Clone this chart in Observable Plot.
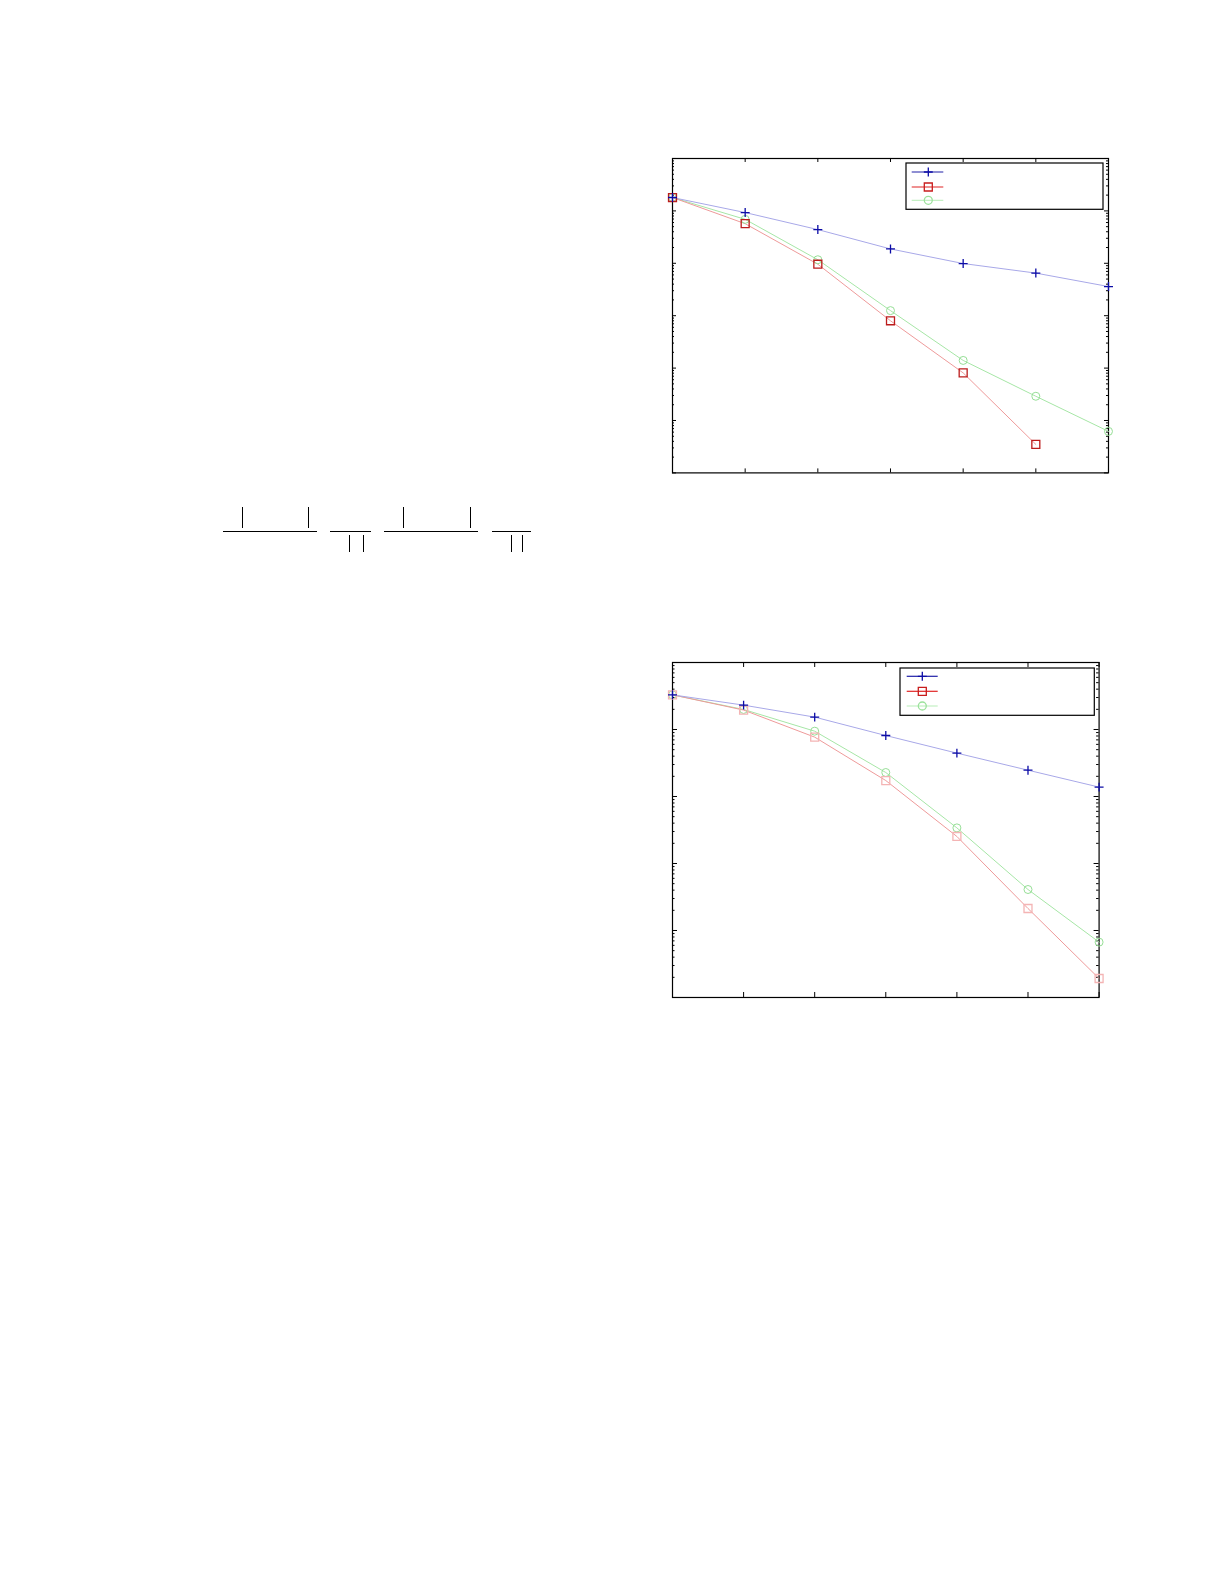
<!DOCTYPE html>
<html><head><meta charset="utf-8">
<script src="https://cdn.jsdelivr.net/npm/d3@7"></script>
<script src="https://cdn.jsdelivr.net/npm/@observablehq/plot@0.6"></script>
<style>
body{margin:0;background:#fff;width:1225px;height:1585px;position:relative;overflow:hidden;font-family:"DejaVu Sans",sans-serif}
.abs{position:absolute}
.hbar{position:absolute;height:1px;background:#000}
.vbar{position:absolute;width:1px;background:#000}
</style></head><body>
<div id="p1" class="abs" style="left:651.7px;top:138.3px"></div>
<div id="p2" class="abs" style="left:651.7px;top:641.7px"></div>
<div id="frac" class="abs" style="left:0;top:0"></div>
<script>
// ---- data ----
const xValues = [0, 1, 2, 3, 4, 5, 6];
const seriesNames = ["A", "B", "C"];

// chart 1 (log y, 1e-6 .. 1)
const top1A = [0.18, 0.093, 0.044, 0.0188, 0.0099, 0.0065, 0.0036];
const top1B = [0.18, 0.057, 0.0096, 0.0008, 0.000081, 0.0000035];
const top1C = [0.18, 0.069, 0.0117, 0.00125, 0.00014, 0.000029, 0.0000062];

// chart 2 (log y, 1e-5 .. 1)
const bot2A = [0.329, 0.231, 0.153, 0.0813, 0.0444, 0.0247, 0.0138];
const bot2B = [0.329, 0.195, 0.0769, 0.0173, 0.00253, 0.000213, 0.0000192];
const bot2C = [0.329, 0.199, 0.0944, 0.0228, 0.0034, 0.000409, 0.000067];

// ---- helpers ----
function toRows(arr, name) { return arr.map((v, i) => ({x: xValues[i], y: v, s: name})); }

function makeChart({A, B, C, yDomain, width, height, m, xTickLen, yMajorLen, yMinorLen, redMarker}) {
  const innerW = width - 2 * m, innerH = height - 2 * m;
  const e0 = Math.round(Math.log10(yDomain[0])), e1 = Math.round(Math.log10(yDomain[1]));
  const decades = d3.range(e0, e1 + 1).map(e => Math.pow(10, e));
  const minors = decades.slice(0, -1).flatMap(d => d3.range(2, 10).map(k => k * d));
  const rA = toRows(A, "A"), rB = toRows(B, "B"), rC = toRows(C, "C");
  const tk = {stroke: "#000", strokeWidth: 1};
  return Plot.plot({
    width, height, marginLeft: m, marginRight: m, marginTop: m, marginBottom: m,
    x: {domain: [xValues[0], xValues[xValues.length - 1]], axis: null},
    y: {type: "log", domain: yDomain, axis: null},
    marks: [
      Plot.tickX(xValues, {x: d => d, insetTop: innerH - xTickLen, ...tk}),
      Plot.tickX(xValues, {x: d => d, insetBottom: innerH - xTickLen, ...tk}),
      Plot.tickY(decades, {y: d => d, insetRight: innerW - yMajorLen, ...tk}),
      Plot.tickY(decades, {y: d => d, insetLeft: innerW - yMajorLen, ...tk}),
      Plot.tickY(minors, {y: d => d, insetRight: innerW - yMinorLen, ...tk}),
      Plot.tickY(minors, {y: d => d, insetLeft: innerW - yMinorLen, ...tk}),
      Plot.frame({stroke: "#000", strokeWidth: 1.2}),
      Plot.line(rC, {x: "x", y: "y", stroke: "#a6e6a6", strokeWidth: 1}),
      Plot.line(rB, {x: "x", y: "y", stroke: "#ee9a9a", strokeWidth: 1}),
      Plot.line(rA, {x: "x", y: "y", stroke: "#a8a8e8", strokeWidth: 1}),
      Plot.dot(rC, {x: "x", y: "y", symbol: "circle", r: 4, stroke: "#96de96", strokeWidth: 1, fill: "none"}),
      Plot.dot(rB, {x: "x", y: "y", symbol: "square", r: 4.5, stroke: redMarker, strokeWidth: 1.3, fill: "none"}),
      Plot.dot(rA, {x: "x", y: "y", symbol: "plus", r: 3, stroke: "#0c0ca6", strokeWidth: 1.3})
    ]
  });
}

function addLegend(container, {left, top, w, h, rows, lineX0, lineX1, markX, legendColors}) {
  const svg = d3.select(container).append("svg")
    .attr("width", w + 2).attr("height", h + 2)
    .style("position", "absolute").style("left", (left - 1) + "px").style("top", (top - 1) + "px");
  svg.append("rect").attr("x", 1).attr("y", 1).attr("width", w).attr("height", h)
    .attr("fill", "#fff").attr("stroke", "#000").attr("stroke-width", 1.2);
  const syms = [d3.symbolPlus, d3.symbolSquare, d3.symbolCircle];
  const sizes = [28, 64, 50];
  seriesNames.forEach((name, i) => {
    const y = rows[i] - top + 1;
    const c = legendColors[i];
    svg.append("line").attr("x1", lineX0 - left + 1).attr("x2", lineX1 - left + 1)
      .attr("y1", y).attr("y2", y).attr("stroke", c.line).attr("stroke-width", 1.2);
    svg.append("path").attr("d", d3.symbol(syms[i], sizes[i])())
      .attr("transform", `translate(${markX - left + 1},${y})`)
      .attr("fill", "none").attr("stroke", c.mark).attr("stroke-width", 1.3);
  });
}

const legendColors = [
  {line: "#2020a8", mark: "#0c0ca6"},
  {line: "#e02424", mark: "#c81c1c"},
  {line: "#c4f0c4", mark: "#9ce29c"}
];

const c1 = makeChart({A: top1A, B: top1B, C: top1C, yDomain: [1e-6, 1], width: 476, height: 354.4, m: 20,
  xTickLen: 4, yMajorLen: 4, yMinorLen: 2, redMarker: "#bc1c1c"});
document.getElementById("p1").appendChild(c1);

const c2 = makeChart({A: bot2A, B: bot2B, C: bot2C, yDomain: [1e-5, 1], width: 466.6, height: 375, m: 20,
  xTickLen: 5, yMajorLen: 5, yMinorLen: 2.5, redMarker: "#f4b4b4"});
document.getElementById("p2").appendChild(c2);

addLegend(document.body, {left: 906, top: 162.7, w: 197, h: 46.3, rows: [171.7, 186.7, 200],
  lineX0: 911.7, lineX1: 943.3, markX: 928.3, legendColors});
addLegend(document.body, {left: 900, top: 667.7, w: 194.3, h: 47.3, rows: [676, 691, 705.7],
  lineX0: 906.7, lineX1: 937.7, markX: 922.3, legendColors});

// ---- rules of the (glyph-less) formula fragment ----
const fracBars = [[223.3, 316.7], [330, 371], [384.3, 478.3], [491.7, 530.7]];
const upBars = [242.3, 308.3, 403.3, 470];
const downBars = [349.3, 363.3, 511, 522.3];
const frac = document.getElementById("frac");
fracBars.forEach(([a, b]) => {
  const d = document.createElement("div"); d.className = "hbar";
  d.style.left = a + "px"; d.style.top = "530.5px"; d.style.width = (b - a) + "px"; frac.appendChild(d);
});
upBars.forEach(x => {
  const d = document.createElement("div"); d.className = "vbar";
  d.style.left = x + "px"; d.style.top = "507.3px"; d.style.height = "21px"; frac.appendChild(d);
});
downBars.forEach(x => {
  const d = document.createElement("div"); d.className = "vbar";
  d.style.left = x + "px"; d.style.top = "535px"; d.style.height = "17.3px"; frac.appendChild(d);
});
</script>
</body></html>
